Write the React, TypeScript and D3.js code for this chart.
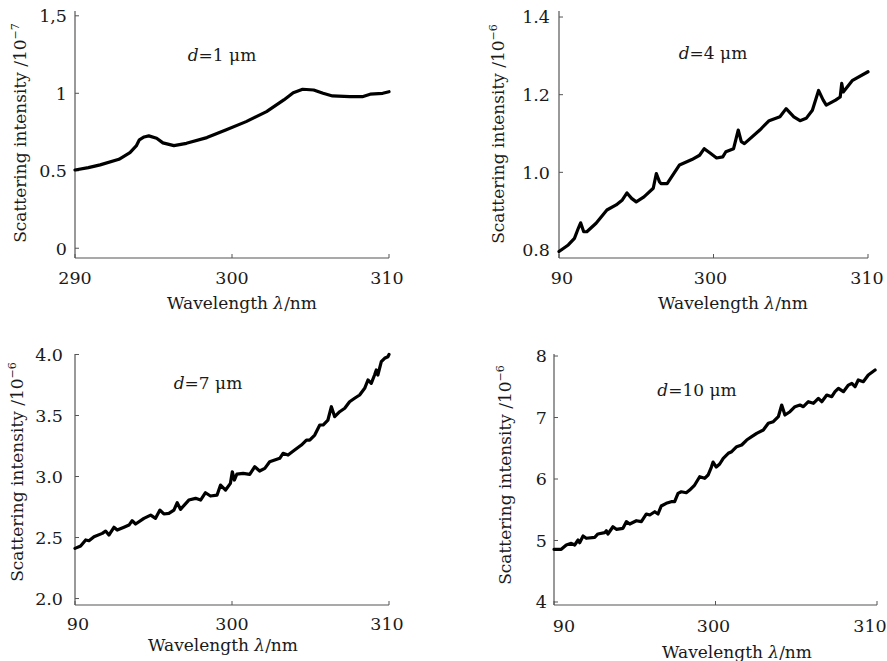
import React from 'react';
import * as d3 from 'd3';

// ---------- data ----------
const wavelength1 = [290.0, 290.85, 291.6, 292.8, 293.5, 293.9, 294.1, 294.4, 294.7, 295.2, 295.6, 296.3, 297.1, 298.4, 299.6, 300.9, 302.2, 303.3, 303.9, 304.5, 305.2, 305.8, 306.4, 307.5, 308.3, 308.8, 309.6, 310.0];
const intensity1 = [0.505, 0.52, 0.538, 0.574, 0.617, 0.66, 0.70, 0.718, 0.725, 0.71, 0.68, 0.662, 0.677, 0.714, 0.763, 0.817, 0.882, 0.957, 1.004, 1.026, 1.021, 1.0, 0.983, 0.978, 0.978, 0.994, 1.0, 1.01];

const wavelength2 = [290.0, 290.6, 291.0, 291.25, 291.4, 291.6, 291.8, 292.4, 293.1, 293.7, 294.1, 294.4, 294.7, 295.0, 295.5, 296.1, 296.3, 296.5, 296.6, 297.0, 297.8, 298.6, 299.1, 299.4, 299.8, 300.2, 300.6, 300.8, 301.3, 301.6, 301.8, 302.0, 303.0, 303.6, 304.3, 304.7, 305.2, 305.6, 306.0, 306.4, 306.8, 307.1, 307.3, 307.9, 308.2, 308.3, 308.4, 309.0, 310.0];
const intensity2 = [0.796, 0.813, 0.83, 0.856, 0.870, 0.847, 0.847, 0.869, 0.903, 0.916, 0.929, 0.947, 0.933, 0.924, 0.937, 0.959, 0.997, 0.976, 0.971, 0.971, 1.019, 1.033, 1.044, 1.061, 1.049, 1.037, 1.04, 1.053, 1.061, 1.109, 1.079, 1.074, 1.109, 1.133, 1.143, 1.164, 1.143, 1.133, 1.139, 1.16, 1.211, 1.186, 1.173, 1.186, 1.194, 1.229, 1.207, 1.237, 1.259];

const wavelength3 = [290.0, 290.36, 290.68, 290.89, 291.21, 291.74, 291.95, 292.16, 292.48, 292.69, 293.12, 293.44, 293.64, 293.86, 294.39, 294.82, 295.13, 295.41, 295.66, 295.98, 296.30, 296.51, 296.72, 297.25, 297.68, 298.0, 298.31, 298.63, 299.05, 299.27, 299.59, 299.90, 300.02, 300.15, 300.31, 300.71, 301.13, 301.45, 301.76, 302.09, 302.40, 302.72, 303.04, 303.25, 303.57, 303.99, 304.42, 304.74, 304.95, 305.27, 305.59, 305.80, 306.11, 306.33, 306.54, 306.86, 307.18, 307.49, 307.81, 308.13, 308.45, 308.66, 308.87, 309.08, 309.19, 309.29, 309.51, 309.72, 309.93, 310.0];
const intensity3 = [2.411, 2.430, 2.480, 2.474, 2.507, 2.534, 2.553, 2.520, 2.584, 2.561, 2.584, 2.602, 2.638, 2.611, 2.657, 2.684, 2.657, 2.725, 2.693, 2.698, 2.725, 2.785, 2.731, 2.807, 2.821, 2.807, 2.867, 2.840, 2.848, 2.930, 2.889, 2.944, 3.039, 2.971, 3.020, 3.026, 3.018, 3.080, 3.045, 3.067, 3.121, 3.135, 3.149, 3.190, 3.176, 3.217, 3.258, 3.299, 3.299, 3.340, 3.422, 3.422, 3.463, 3.572, 3.490, 3.531, 3.559, 3.613, 3.641, 3.668, 3.723, 3.791, 3.764, 3.832, 3.873, 3.832, 3.941, 3.969, 3.982, 4.0];

const wavelength4 = [290.0, 290.45, 290.76, 291.07, 291.28, 291.49, 291.59, 291.80, 292.0, 292.52, 292.72, 293.14, 293.24, 293.34, 293.65, 293.86, 294.27, 294.48, 294.69, 295.10, 295.41, 295.72, 295.93, 296.24, 296.44, 296.64, 296.95, 297.26, 297.47, 297.68, 297.88, 298.19, 298.40, 298.71, 299.02, 299.33, 299.54, 299.74, 299.85, 300.05, 300.26, 300.48, 300.79, 301.0, 301.31, 301.62, 301.93, 302.24, 302.55, 302.96, 303.27, 303.58, 303.89, 304.10, 304.30, 304.61, 304.92, 305.23, 305.44, 305.75, 306.06, 306.37, 306.58, 306.89, 307.20, 307.40, 307.61, 307.92, 308.23, 308.44, 308.64, 308.84, 309.15, 309.46, 309.88];
const intensity4 = [4.857, 4.857, 4.927, 4.954, 4.927, 5.008, 4.964, 5.073, 5.036, 5.052, 5.106, 5.127, 5.159, 5.106, 5.224, 5.182, 5.198, 5.306, 5.268, 5.322, 5.306, 5.431, 5.415, 5.468, 5.431, 5.561, 5.605, 5.631, 5.631, 5.767, 5.793, 5.777, 5.821, 5.902, 6.037, 6.011, 6.065, 6.190, 6.276, 6.195, 6.244, 6.337, 6.418, 6.444, 6.525, 6.553, 6.634, 6.688, 6.743, 6.797, 6.906, 6.932, 7.013, 7.203, 7.041, 7.094, 7.176, 7.203, 7.176, 7.257, 7.231, 7.312, 7.257, 7.366, 7.338, 7.420, 7.475, 7.420, 7.528, 7.556, 7.501, 7.610, 7.582, 7.691, 7.772];

const xTicks = [290, 300, 310];
const xTickLabels1 = ['290', '300', '310'];
const xTickLabelsOther = ['90', '300', '310'];

const yTicks1 = [0, 0.5, 1, 1.5];
const yTickLabels1 = ['0', '0.5', '1', '1,5'];
const yTicks2 = [0.8, 1.0, 1.2, 1.4];
const yTickLabels2 = ['0.8', '1.0', '1.2', '1.4'];
const yTicks3 = [2.0, 2.5, 3.0, 3.5, 4.0];
const yTickLabels3 = ['2.0', '2.5', '3.0', '3.5', '4.0'];
const yTicks4 = [4, 5, 6, 7, 8];
const yTickLabels4 = ['4', '5', '6', '7', '8'];

const exponents = ['−7', '−6', '−6', '−6'];
const diameters = ['1', '4', '7', '10'];

// ---------- layout ----------
const panels = [
  { xs: wavelength1, ys: intensity1, xLabels: xTickLabels1, yTicks: yTicks1, yLabels: yTickLabels1,
    left: 75, right: 389, top: 11, bottom: 258, yDomain: [-0.063, 1.531], xLabelShift: [0, 0, -2],
    yTickLabelX: 67, xTickLabelY: 284, xLabelPos: [242, 309], yLabelPos: [20, 133], annoPos: [222, 61] },
  { xs: wavelength2, ys: intensity2, xLabels: xTickLabelsOther, yTicks: yTicks2, yLabels: yTickLabels2,
    left: 559, right: 868, top: 11, bottom: 258, yDomain: [0.7794, 1.4155], xLabelShift: [3, -3, -1],
    yTickLabelX: 550, xTickLabelY: 284, xLabelPos: [733, 309], yLabelPos: [498, 134], annoPos: [713, 59] },
  { xs: wavelength3, ys: intensity3, xLabels: xTickLabelsOther, yTicks: yTicks3, yLabels: yTickLabels3,
    left: 75, right: 389, top: 354, bottom: 605, yDomain: [1.947, 4.004], xLabelShift: [3, 0, -2],
    yTickLabelX: 63, xTickLabelY: 630, xLabelPos: [223, 651], yLabelPos: [17, 472], annoPos: [208, 389] },
  { xs: wavelength4, ys: intensity4, xLabels: xTickLabelsOther, yTicks: yTicks4, yLabels: yTickLabels4,
    left: 554, right: 877, top: 354, bottom: 605, yDomain: [3.951, 8.033], xLabelShift: [10, -2, -7],
    yTickLabelX: 547, xTickLabelY: 632, xLabelPos: [737, 658], yLabelPos: [505, 475], annoPos: [697, 396] },
];

const FONT = "'DejaVu Serif', 'Liberation Serif', serif";
const AXIS = '#555';
const TEXT = '#1a1a1a';

function Panel({ p, idx }: { p: any; idx: number }) {
  const x = d3.scaleLinear().domain([290, 310]).range([p.left, p.right]);
  const y = d3.scaleLinear().domain(p.yDomain).range([p.bottom, p.top]);
  const pts: [number, number][] = p.xs.map((v: number, i: number) => [v, p.ys[i]]);
  const line = d3.line<[number, number]>().x(d => x(d[0])).y(d => y(d[1]));
  return (
    <g>
      <line x1={p.left} x2={p.left} y1={p.top} y2={p.bottom} stroke={AXIS} strokeWidth={1.2} />
      <line x1={p.left} x2={p.right} y1={p.bottom} y2={p.bottom} stroke={AXIS} strokeWidth={1.2} />
      {xTicks.map(t => (
        <line key={'xt' + t} x1={x(t)} x2={x(t)} y1={p.bottom} y2={p.bottom - 4} stroke={AXIS} strokeWidth={1} />
      ))}
      {p.yTicks.map((t: number) => (
        <line key={'yt' + t} x1={p.left} x2={p.left + 4} y1={y(t)} y2={y(t)} stroke={AXIS} strokeWidth={1} />
      ))}
      {xTicks.map((t, i) => (
        <text key={'xl' + t} x={x(t) + p.xLabelShift[i]} y={p.xTickLabelY} textAnchor="middle" fontSize={17.5} fontFamily={FONT} fill={TEXT}>{p.xLabels[i]}</text>
      ))}
      {p.yTicks.map((t: number, i: number) => (
        <text key={'yl' + t} x={p.yTickLabelX} y={y(t)} dy="0.36em" textAnchor="end" fontSize={17.5} fontFamily={FONT} fill={TEXT}>{p.yLabels[i]}</text>
      ))}
      <text x={p.xLabelPos[0]} y={p.xLabelPos[1]} textAnchor="middle" fontSize={17} fontFamily={FONT} fill={TEXT}>
        Wavelength <tspan fontStyle="italic">λ</tspan>/nm
      </text>
      <text transform={`translate(${p.yLabelPos[0]},${p.yLabelPos[1]}) rotate(-90)`} dy="0.36em" textAnchor="middle" fontSize={17} fontFamily={FONT} fill={TEXT}>
        Scattering intensity /10<tspan fontSize={11} dy={-7}>{exponents[idx]}</tspan>
      </text>
      <text x={p.annoPos[0]} y={p.annoPos[1]} textAnchor="middle" fontSize={17} fontFamily={FONT} fill={TEXT}>
        <tspan fontStyle="italic">d</tspan>={diameters[idx]} μm
      </text>
      <path d={line(pts) || ''} fill="none" stroke="#000" strokeWidth={3.2} strokeLinejoin="round" strokeLinecap="round" />
    </g>
  );
}

export default function App() {
  return (
    <svg width={887} height={661} viewBox="0 0 887 661"
      style={{ position: 'absolute', left: 0, top: 0, background: '#fff', display: 'block' }}>
      <rect x={0} y={0} width={887} height={661} fill="#fff" />
      {panels.map((p, i) => <Panel key={i} p={p} idx={i} />)}
    </svg>
  );
}
